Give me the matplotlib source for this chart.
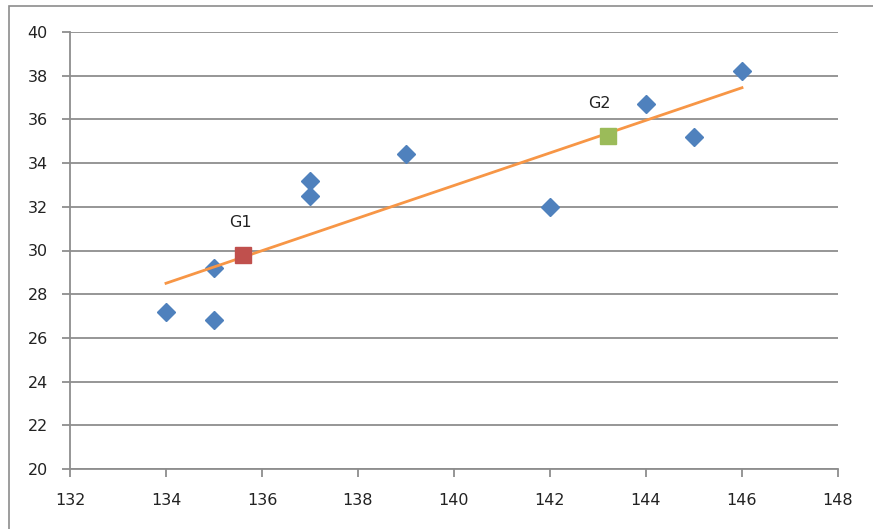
import matplotlib.pyplot as plt
from matplotlib.patches import Rectangle

# data points
x_pts = [134, 135, 135, 137, 137, 139, 142, 144, 145, 146]
y_pts = [27.2, 29.2, 26.8, 33.2, 32.5, 34.4, 32.0, 36.7, 35.2, 38.2]

# group centres
g_names = ["G1", "G2"]
g_x = [135.6, 143.2]
g_y = [29.8, 35.25]
g_colors = ["#C0504D", "#9BBB59"]

# fitted line ends
line_x = [134, 146]
line_y = [28.5, 37.45]

fig = plt.figure(figsize=(8.73, 5.29), dpi=100)
fig.patches.append(Rectangle((9/873, -0.1), 1.0, 1 - 6/529 + 0.1, transform=fig.transFigure,
                             fill=False, edgecolor="#8c8c8c", linewidth=1.2))

ax = fig.add_axes([70/873, 1 - 469/529, 768/873, 437/529])
ax.set_xlim(132, 148)
ax.set_ylim(20, 40)
ax.set_xticks(range(132, 149, 2))
ax.set_yticks(range(20, 41, 2))

ax.grid(axis="y", color="#8e8e8e", linewidth=1.3)
ax.set_axisbelow(True)
for s in ["top", "right"]:
    ax.spines[s].set_visible(False)
for s in ["left", "bottom"]:
    ax.spines[s].set_color("#8e8e8e")
    ax.spines[s].set_linewidth(1.3)
ax.tick_params(direction="out", length=6, width=1.3, color="#8e8e8e",
               labelsize=11.5, labelcolor="#222222")
ax.tick_params(axis="x", pad=11)
ax.tick_params(axis="y", pad=10)

ax.plot(x_pts, y_pts, linestyle="none", marker="D", markersize=9,
        color="#4F81BD", zorder=3)
ax.plot(line_x, line_y, color="#F79646", linewidth=2, zorder=4)
label_dx = [-0.04, -0.18]
for name, gx, gy, c, dx in zip(g_names, g_x, g_y, g_colors, label_dx):
    ax.plot(gx, gy, marker="s", markersize=12, color=c, linestyle="none", zorder=5)
    ax.text(gx + dx, gy + 1.15, name, fontsize=11.5, color="#222222",
            ha="center", va="bottom")

fig.savefig("out.png", dpi=100)
